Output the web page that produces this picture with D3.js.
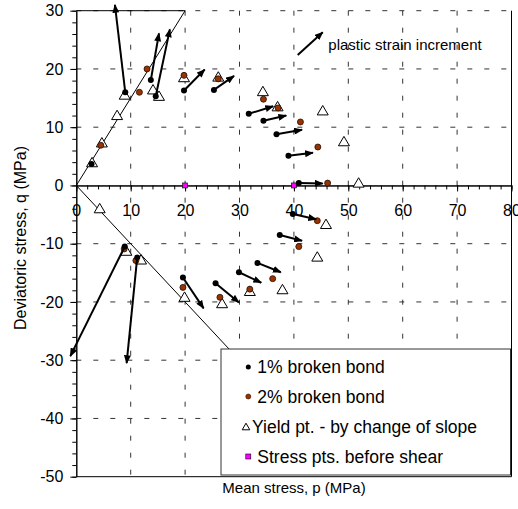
<!DOCTYPE html>
<html>
<head>
<meta charset="utf-8">
<script src="https://cdn.jsdelivr.net/npm/d3@7"></script>
<style>
body { margin: 0; background: #fff; }
svg { display: block; font-family: Arial, "Liberation Sans", sans-serif; }
</style>
</head>
<body>
<div class="root"></div>
<script>
// 1% broken bond points [p, q]
var bond1 = [[2.8,3.7],[9.0,16.0],[13.7,18.1],[14.6,15.3],[19.8,16.3],[25.3,16.4],[31.7,12.3],[34.4,11.1],[36.8,8.8],[39.0,5.1],[40.9,0.4],
  [8.9,-10.5],[11.2,-12.35],[19.6,-15.8],[25.6,-16.8],[29.9,-14.9],[33.3,-13.3],[37.4,-8.5],[39.8,-4.9]];
// 2% broken bond points
var bond2 = [[4.5,6.9],[11.6,16.0],[13.0,20.0],[19.8,18.9],[26.1,18.3],[34.4,14.8],[37.1,13.3],[41.2,10.9],[44.4,6.6],[46.2,0.4],
  [8.8,-10.9],[10.95,-12.9],[19.6,-17.5],[26.4,-19.2],[31.9,-17.8],[36.1,-16.0],[40.9,-10.5],[44.3,-6.05]];
// yield points by change of slope
var yieldPts = [[2.9,4.0],[4.7,7.4],[7.5,12.1],[8.9,15.6],[14.1,16.5],[15.2,15.4],[19.8,18.6],[26.1,18.7],[34.3,16.2],[37.0,13.6],[45.3,12.9],[49.2,7.6],[51.9,0.5],
  [4.3,-3.9],[9.2,-11.2],[11.9,-12.7],[19.9,-19.1],[26.8,-20.2],[31.9,-18.1],[37.9,-17.8],[44.3,-12.2],[45.9,-6.6]];
// stress points before shear
var preShear = [[20,0],[40,0]];
// plastic strain increment arrows [p0, q0, p1, q1]
var increments = [[9.0,16.0,7.1,31.0],[13.7,18.1,15.2,26.1],[14.6,15.3,17.2,26.8],[19.8,16.3,23.6,19.9],[25.3,16.4,29.0,18.8],
  [31.7,12.3,36.2,13.6],[34.4,11.1,38.6,12.0],[36.8,8.8,41.5,9.55],[39.0,5.1,43.5,5.6],[40.9,0.4,45.3,0.35],
  [8.9,-10.5,-1.1,-29.3],[11.2,-12.35,9.25,-30.5],[19.6,-15.8,23.4,-21.1],[25.6,-16.8,29.9,-20.1],[29.9,-14.9,34.0,-16.7],
  [33.3,-13.3,37.6,-14.9],[37.4,-8.5,41.5,-9.5],[39.8,-4.9,44.1,-5.8]];
// critical state lines (compression / extension)
var cslLines = [[0,0,20,30],[0,0,40,-40]];
var keyArrow = [40.7,22.4,45.3,26.3];
var legendLabels = ["1% broken bond","2% broken bond","Yield pt. - by change of slope","Stress pts. before shear"];

var width = 518, height = 509;
var x = d3.scaleLinear().domain([0, 80]).range([76.3, 511.5]);
var y = d3.scaleLinear().domain([-50, 30]).range([476.7, 10.7]);

var svg = d3.select(".root").append("svg")
  .attr("width", width)
  .attr("height", height);

svg.append("defs").append("marker")
  .attr("id", "head")
  .attr("viewBox", "0 0 10 8")
  .attr("refX", 9).attr("refY", 4)
  .attr("markerUnits", "userSpaceOnUse")
  .attr("markerWidth", 9).attr("markerHeight", 7)
  .attr("orient", "auto")
  .append("path").attr("d", "M0,0L10,4L0,8Z").attr("fill", "#000");

// grid
var grid = svg.append("g").attr("stroke", "#333").attr("stroke-dasharray", "5,12");
grid.selectAll(".vg").data(d3.range(10, 80, 10)).enter().append("line")
  .attr("x1", function (d) { return x(d); }).attr("x2", function (d) { return x(d); })
  .attr("y1", y(30)).attr("y2", y(-50));
grid.selectAll(".hg").data([30, 20, 10, -10, -20, -30, -40]).enter().append("line")
  .attr("x1", x(0)).attr("x2", x(80))
  .attr("y1", function (d) { return y(d); }).attr("y2", function (d) { return y(d); });

// borders
svg.append("line").attr("x1", x(0)).attr("x2", x(20)).attr("y1", y(30)).attr("y2", y(30)).attr("stroke", "#000");
svg.append("line").attr("x1", x(80)).attr("x2", x(80)).attr("y1", y(30)).attr("y2", y(-50)).attr("stroke", "#000");
svg.append("line").attr("x1", x(0)).attr("x2", x(80)).attr("y1", y(-50)).attr("y2", y(-50)).attr("stroke", "#000");

// axes
var plain = function (d) { return String(d); };
function styleAxis(g) {
  g.select(".domain").attr("stroke", "#000");
  g.selectAll("text").attr("font-size", "16px").attr("fill", "#000").attr("font-family", "Arial, 'Liberation Sans', sans-serif");
}
svg.append("g").attr("transform", "translate(" + x(0) + ",0)")
  .call(d3.axisLeft(y).tickValues(d3.range(-50, 31, 2)).tickSize(4).tickSizeOuter(0).tickFormat(""))
  .call(styleAxis);
svg.append("g").attr("transform", "translate(" + x(0) + ",0)")
  .call(d3.axisLeft(y).tickValues(d3.range(-50, 31, 10)).tickSize(6).tickSizeOuter(0).tickPadding(7).tickFormat(plain))
  .call(styleAxis);
svg.append("g").attr("transform", "translate(0," + y(0) + ")")
  .call(d3.axisBottom(x).tickValues(d3.range(0, 81, 2)).tickSize(4).tickSizeOuter(0).tickFormat(""))
  .call(styleAxis);
svg.append("g").attr("transform", "translate(0," + y(0) + ")")
  .call(d3.axisBottom(x).tickValues(d3.range(0, 81, 10)).tickSize(6).tickSizeOuter(0).tickPadding(13).tickFormat(plain))
  .call(styleAxis);

// critical state lines
svg.append("g").selectAll("line").data(cslLines).enter().append("line")
  .attr("x1", function (d) { return x(d[0]); }).attr("y1", function (d) { return y(d[1]); })
  .attr("x2", function (d) { return x(d[2]); }).attr("y2", function (d) { return y(d[3]); })
  .attr("stroke", "#000").attr("stroke-width", 1);

// yield triangles
var tri = "M0,-4.8L5.5,4.6L-5.5,4.6Z";
svg.append("g").selectAll("path").data(yieldPts).enter().append("path")
  .attr("d", tri)
  .attr("transform", function (d) { return "translate(" + x(d[0]) + "," + y(d[1]) + ")"; })
  .attr("fill", "#fff").attr("stroke", "#000").attr("stroke-width", 1);

// 2% dots
svg.append("g").selectAll("circle").data(bond2).enter().append("circle")
  .attr("cx", function (d) { return x(d[0]); }).attr("cy", function (d) { return y(d[1]); })
  .attr("r", 3).attr("fill", "#993300").attr("stroke", "#2a0c00").attr("stroke-width", 0.8);

// pre-shear squares
svg.append("g").selectAll("rect").data(preShear).enter().append("rect")
  .attr("x", function (d) { return x(d[0]) - 2.5; }).attr("y", function (d) { return y(d[1]) - 2.5; })
  .attr("width", 5).attr("height", 5)
  .attr("fill", "#ff00ff").attr("stroke", "#000").attr("stroke-width", 0.6);

// arrows
svg.append("g").selectAll("line").data(increments).enter().append("line")
  .attr("x1", function (d) { return x(d[0]); }).attr("y1", function (d) { return y(d[1]); })
  .attr("x2", function (d) { return x(d[2]); }).attr("y2", function (d) { return y(d[3]); })
  .attr("stroke", "#000").attr("stroke-width", 2)
  .attr("marker-end", "url(#head)");

// 1% dots
svg.append("g").selectAll("circle").data(bond1).enter().append("circle")
  .attr("cx", function (d) { return x(d[0]); }).attr("cy", function (d) { return y(d[1]); })
  .attr("r", 3).attr("fill", "#000");

// key arrow + text
svg.append("line")
  .attr("x1", x(keyArrow[0])).attr("y1", y(keyArrow[1]))
  .attr("x2", x(keyArrow[2])).attr("y2", y(keyArrow[3]))
  .attr("stroke", "#000").attr("stroke-width", 2)
  .attr("marker-end", "url(#head)");
svg.append("text").attr("x", 328.3).attr("y", 49.5)
  .attr("font-size", "15px").text("plastic strain increment");

// legend
var lg = svg.append("g");
lg.append("rect").attr("x", 221).attr("y", 349).attr("width", x(80) - 1 - 221).attr("height", 126)
  .attr("fill", "#fff").attr("stroke", "#333").attr("stroke-width", 1);
var rows = [367, 396.5, 426.5, 456.5];
lg.append("circle").attr("cx", 248.3).attr("cy", rows[0]).attr("r", 2.5).attr("fill", "#000");
lg.append("circle").attr("cx", 248.3).attr("cy", rows[1]).attr("r", 2.5).attr("fill", "#993300").attr("stroke", "#2a0c00").attr("stroke-width", 0.6);
lg.append("path").attr("d", "M0,-3.3L3.8,3.3L-3.8,3.3Z").attr("transform", "translate(246," + rows[2] + ")")
  .attr("fill", "#fff").attr("stroke", "#000");
lg.append("rect").attr("x", 245.8).attr("y", rows[3] - 2.5).attr("width", 5).attr("height", 5)
  .attr("fill", "#ff00ff").attr("stroke", "#000").attr("stroke-width", 0.6);
lg.selectAll("text").data(legendLabels).enter().append("text")
  .attr("x", function (d, i) { return i == 2 ? 252 : 257.3; })
  .attr("y", function (d, i) { return rows[i]; })
  .attr("dy", "0.36em")
  .attr("font-size", "17.5px")
  .text(function (d) { return d; });

// axis titles
svg.append("text").attr("x", 294).attr("y", 492.5).attr("text-anchor", "middle")
  .attr("font-size", "15px").text("Mean stress, p (MPa)");
svg.append("text").attr("transform", "translate(26,238) rotate(-90)").attr("text-anchor", "middle")
  .attr("font-size", "16px").text("Deviatoric stress, q (MPa)");
</script>
</body>
</html>
